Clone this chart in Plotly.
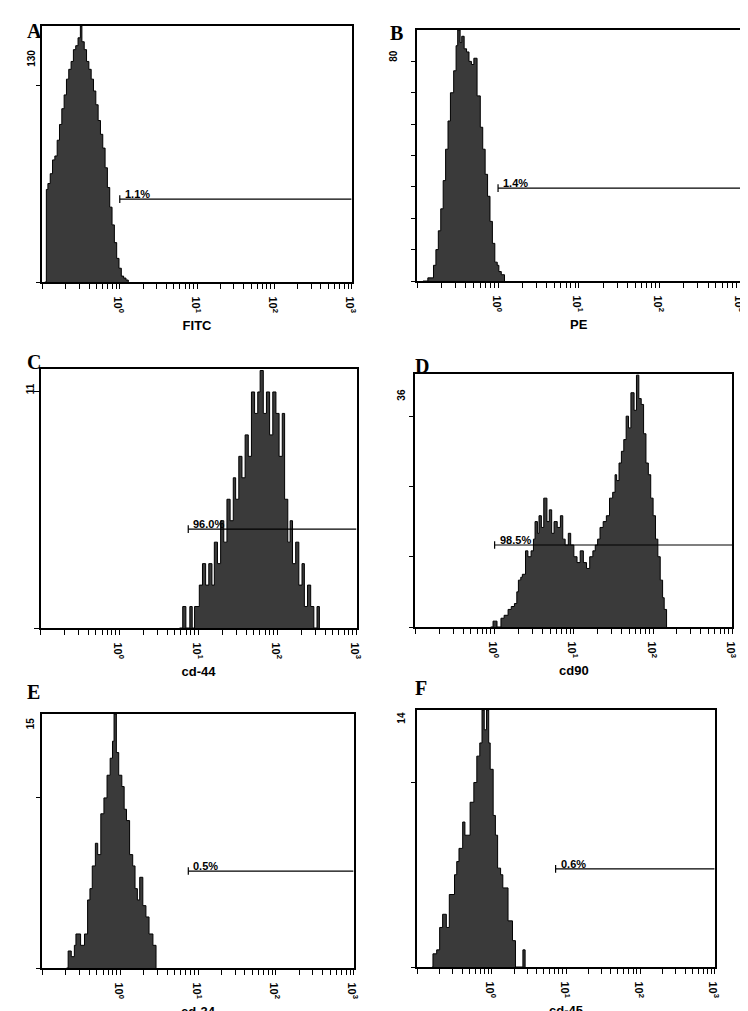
import plotly.graph_objects as go

W, H = 748, 1011

# ---------------- data (log10 intensity, event counts) ----------------
A_log = [-0.97,-0.95,-0.93,-0.90,-0.87,-0.84,-0.81,-0.78,-0.75,-0.72,-0.69,-0.66,-0.63,-0.60,-0.57,-0.54,-0.51,-0.49,-0.46,-0.43,-0.40,-0.37,-0.34,-0.31,-0.28,-0.25,-0.22,-0.19,-0.16,-0.13,-0.10,-0.07,-0.04,-0.01,0.02,0.05,0.08,0.11]
A_cnt = [0,47,50,55,62,64,72,80,88,95,103,108,112,118,120,124,130,122,118,112,108,103,97,90,82,75,68,58,48,38,29,20,12,7,3,2,1,0]

B_log = [-0.93,-0.87,-0.83,-0.80,-0.77,-0.74,-0.71,-0.68,-0.65,-0.62,-0.59,-0.55,-0.52,-0.50,-0.47,-0.45,-0.42,-0.39,-0.36,-0.33,-0.30,-0.26,-0.22,-0.19,-0.16,-0.13,-0.10,-0.07,-0.04,-0.01,0.01,0.04,0.08]
B_cnt = [0,1,1,5,10,16,23,32,42,51,60,67,75,80,76,78,74,73,70,69,71,59,49,42,34,27,19,12,6,5,3,2,0]

C_log = [0.76,0.80,0.84,0.89,0.92,0.95,1.01,1.05,1.09,1.13,1.17,1.20,1.24,1.28,1.32,1.36,1.40,1.44,1.47,1.51,1.55,1.59,1.63,1.67,1.71,1.75,1.78,1.82,1.86,1.90,1.94,1.98,2.02,2.06,2.09,2.13,2.16,2.19,2.23,2.27,2.31,2.34,2.38,2.42,2.46,2.50,2.53]
C_cnt = [0,1,0,1,0,1,2,3,2,3,2,4,3,5,4,6,5,7,6,8,7,9,8,11,10,11,12,10,11,9,11,10,8,10,6,4,5,3,4,2,3,1,2,1,0,1,0]

D_log = [-0.05,-0.02,0.03,0.08,0.12,0.17,0.21,0.25,0.28,0.30,0.33,0.35,0.39,0.42,0.46,0.49,0.51,0.54,0.56,0.59,0.62,0.66,0.69,0.72,0.75,0.79,0.83,0.86,0.89,0.93,0.96,1.00,1.04,1.08,1.12,1.16,1.20,1.24,1.27,1.30,1.33,1.37,1.41,1.45,1.49,1.52,1.54,1.57,1.60,1.63,1.66,1.69,1.72,1.76,1.79,1.82,1.85,1.88,1.91,1.94,1.97,2.00,2.03,2.06,2.09,2.12,2.14,2.17]
D_cnt = [0,1,0,1.5,2,3,3.5,4,6,8,8.5,9,13,12,13,15,18,16,19,17,22,18,20,16,18,17,19,15,14,16,14,12,11,13,11,10,12,13,14,15,17,18,19,22,23,26,25,28,30,32,36,34,40,37,43,39,38,33,28,26,22,19,15,12,8,5,3,0]

E_log = [-0.69,-0.67,-0.63,-0.59,-0.57,-0.51,-0.46,-0.42,-0.39,-0.36,-0.32,-0.29,-0.25,-0.21,-0.17,-0.13,-0.10,-0.08,-0.05,-0.02,0.02,0.05,0.08,0.12,0.16,0.19,0.22,0.25,0.29,0.33,0.37,0.42,0.46]
E_cnt = [0,1.5,1,2,3,2,3,6,7,9,11,10,13.6,15,17,18.5,20,22.4,19,17,16,14,13,10,9,7,6,8,5.5,4.5,3,2,0]

F_log = [-0.80,-0.79,-0.74,-0.70,-0.66,-0.61,-0.57,-0.50,-0.47,-0.44,-0.39,-0.36,-0.33,-0.29,-0.24,-0.20,-0.16,-0.13,-0.10,-0.07,-0.04,-0.02,0.02,0.05,0.08,0.12,0.15,0.22,0.28,0.32,0.42,0.45]
F_cnt = [0,1,1.3,3,4,3,5.5,7,8,9,11,10,10,12.5,14,16,17,19.5,18,19.5,17,15,11.5,10,7.5,7,6,3.5,2,0,1.3,0]

letters = ["A", "B", "C", "D", "E", "F"]
xtitles = ["FITC", "PE", "cd-44", "cd90", "cd-34", "cd-45"]
ymax_labels = ["130", "80", "11", "36", "15", "14"]
gate_pct = ["1.1%", "1.4%", "96.0%", "98.5%", "0.5%", "0.6%"]
gate_start_log = [0.0, 0.0, 0.87, 0.0, 0.875, 0.86]
gate_level = [42.1, 29.6, 4.61, 14.0, 8.55, 7.44]
ytop = [130, 80, 12.07, 43.2, 22.4, 19.5]
ytickvals = [[0, 100], [0, 10, 20, 30, 40, 50, 60, 70], [0, 11], [0, 12, 24, 36], [0, 15], [0, 14]]

series_log = [A_log, B_log, C_log, D_log, E_log, F_log]
series_cnt = [A_cnt, B_cnt, C_cnt, D_cnt, E_cnt, F_cnt]

# ---------------- layout (pixel boxes: left, right, top, bottom) ----------------
boxes = [(27, 342, 18, 274), (409, 738, 22, 273), (25, 347, 361, 620),
         (407, 730, 366, 619), (27, 344, 706, 960), (409, 712, 702, 959)]
letter_pos = [(9, 10), (388, 12), (9, 354), (414, 358), (9, 697), (413, 693)]
ylab_pos = [(8, 40), (384, 40), (7, 381), (392, 387), (7, 723), (392, 718)]

fig = go.Figure()
tv, tt = [], []
for d in range(-1, 3):
    for m in range(1, 10):
        v = 10 ** d * m
        tv.append(v)
        tt.append(" " if m != 1 or d < 0 else f"<b>10<sup>{d}</sup></b>")
tv.append(1000); tt.append("<b>10<sup>3</sup></b>")

for i in range(6):
    l, r, t, b = boxes[i]
    xa = "x" if i == 0 else f"x{i+1}"
    ya = "y" if i == 0 else f"y{i+1}"
    xs = [10 ** v for v in series_log[i]]
    fig.add_trace(go.Scatter(x=xs, y=series_cnt[i], mode="lines", line_shape="hv",
                             fill="tozeroy", fillcolor="#3a3a3a",
                             line=dict(color="#000", width=1),
                             xaxis=xa, yaxis=ya, showlegend=False, hoverinfo="skip"))
    key = "" if i == 0 else str(i + 1)
    fig.layout["xaxis" + key] = dict(
        type="log", range=[-1, 3], domain=[l / W, r / W], anchor=ya,
        showline=True, mirror=True, linecolor="#000", linewidth=1.5,
        ticks="outside", ticklen=5, tickcolor="#000", tickwidth=1,
        tickvals=tv, ticktext=tt, showgrid=False, zeroline=False,
        tickfont=dict(family="Arial", size=11, color="#000"),
        title=dict(text=f"<b>{xtitles[i]}</b>", font=dict(family="Arial", size=13, color="#000"), standoff=8))
    fig.layout["yaxis" + key] = dict(
        range=[0, ytop[i]], domain=[1 - b / H, 1 - t / H], anchor=xa,
        showline=True, mirror=True, linecolor="#000", linewidth=1.5,
        ticks="outside", ticklen=5, tickcolor="#000",
        tickvals=ytickvals[i], showticklabels=False, showgrid=False, zeroline=False)
    x0 = 10 ** gate_start_log[i]
    fig.add_shape(type="line", xref=xa, yref=ya, x0=x0, x1=1000, y0=gate_level[i], y1=gate_level[i],
                  line=dict(color="#000", width=1.2))
    fig.add_shape(type="line", xref=xa, yref=ya, x0=x0, x1=x0,
                  y0=gate_level[i] - ytop[i] * 0.015, y1=gate_level[i] + ytop[i] * 0.015,
                  line=dict(color="#000", width=1.2))
    fig.add_annotation(x=gate_start_log[i], y=gate_level[i], xref=xa, yref=ya,
                       text=f"<b>{gate_pct[i]}</b>", showarrow=False, xanchor="left", yanchor="bottom",
                       xshift=3, yshift=-3, font=dict(family="Arial", size=11, color="#000"))
    lx, ly = letter_pos[i]
    fig.add_annotation(x=lx / W, y=1 - ly / H, xref="paper", yref="paper", text=f"<b>{letters[i]}</b>",
                       showarrow=False, font=dict(family="Liberation Serif", size=20, color="#000"))
    yx, yy = ylab_pos[i]
    fig.add_annotation(x=yx / W, y=1 - yy / H, xref="paper", yref="paper", text=f"<b>{ymax_labels[i]}</b>",
                       showarrow=False, textangle=-90, font=dict(family="Arial", size=10, color="#000"))

fig.update_layout(width=W, height=H, margin=dict(l=0, r=0, t=0, b=0),
                  paper_bgcolor="white", plot_bgcolor="white")
fig.write_html("out.html")
